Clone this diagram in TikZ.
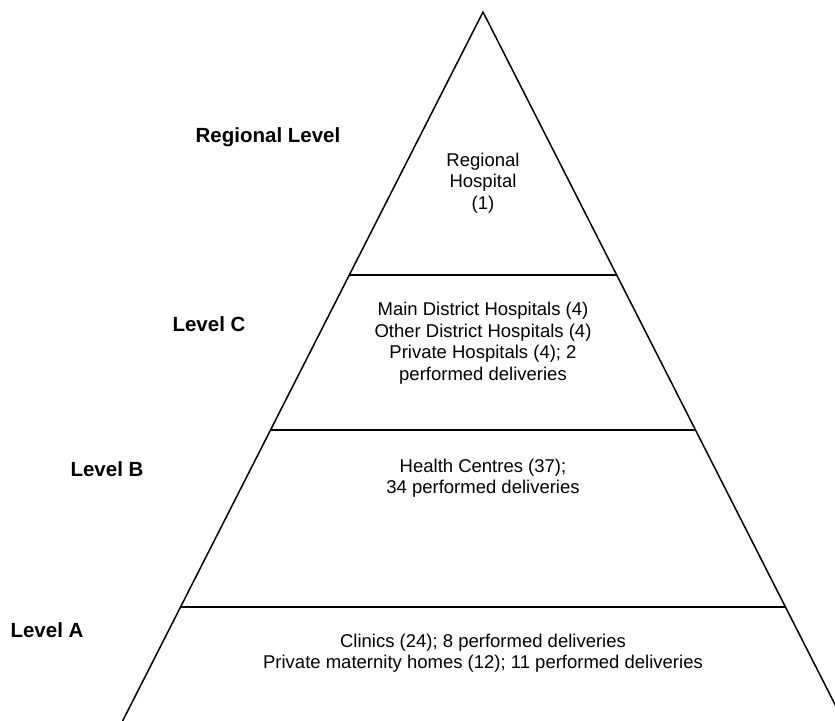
\documentclass[tikz,border=0pt]{standalone}
\usepackage{fontspec}
\setmainfont{Liberation Sans}
\usetikzlibrary{calc}

\tikzset{
    tier/.style={align=center, font=\fontsize{18.5}{21.5}\selectfont},
    level/.style={font=\fontsize{20.5}{24}\selectfont\bfseries}
}

\begin{document}
\begin{tikzpicture}[x=1pt, y=-1pt]
    \useasboundingbox (0,0) rectangle (835,720);
    \clip (0,0) rectangle (835,720);
    \coordinate (apex) at (483,12);
    \coordinate (baseL) at (117,732);
    \coordinate (baseR) at (849,732);
    \draw [line width=1.5pt] (baseL) -- (apex) -- (baseR);
    % dividing lines between the tiers
    \draw [line width=1.5pt] ($(apex)!0.3653!(baseL)$) -- ($(apex)!0.3653!(baseR)$);
    \draw [line width=1.5pt] ($(apex)!0.5806!(baseL)$) -- ($(apex)!0.5806!(baseR)$);
    \draw [line width=1.5pt] ($(apex)!0.8264!(baseL)$) -- ($(apex)!0.8264!(baseR)$);
    \node (regional) at (483,183) [tier] {Regional\\Hospital\\(1)};
    \node (levC) at (483,343) [tier] {Main District Hospitals (4)\\Other District Hospitals (4)\\Private Hospitals (4); 2\\performed deliveries};
    \node (levB) at (483,478) [tier] {Health Centres (37);\\34 performed deliveries};
    \node (levA) at (483,653) [tier] {Clinics (24); 8 performed deliveries\\Private maternity homes (12); 11 performed deliveries};
    \node (lblR) at (268,137) [level] {Regional Level};
    \node (lblC) at (209,324) [level] {Level C};
    \node (lblB) at (107,469) [level] {Level B};
    \node (lblA) at (47,630) [level] {Level A};
\end{tikzpicture}
\end{document}
